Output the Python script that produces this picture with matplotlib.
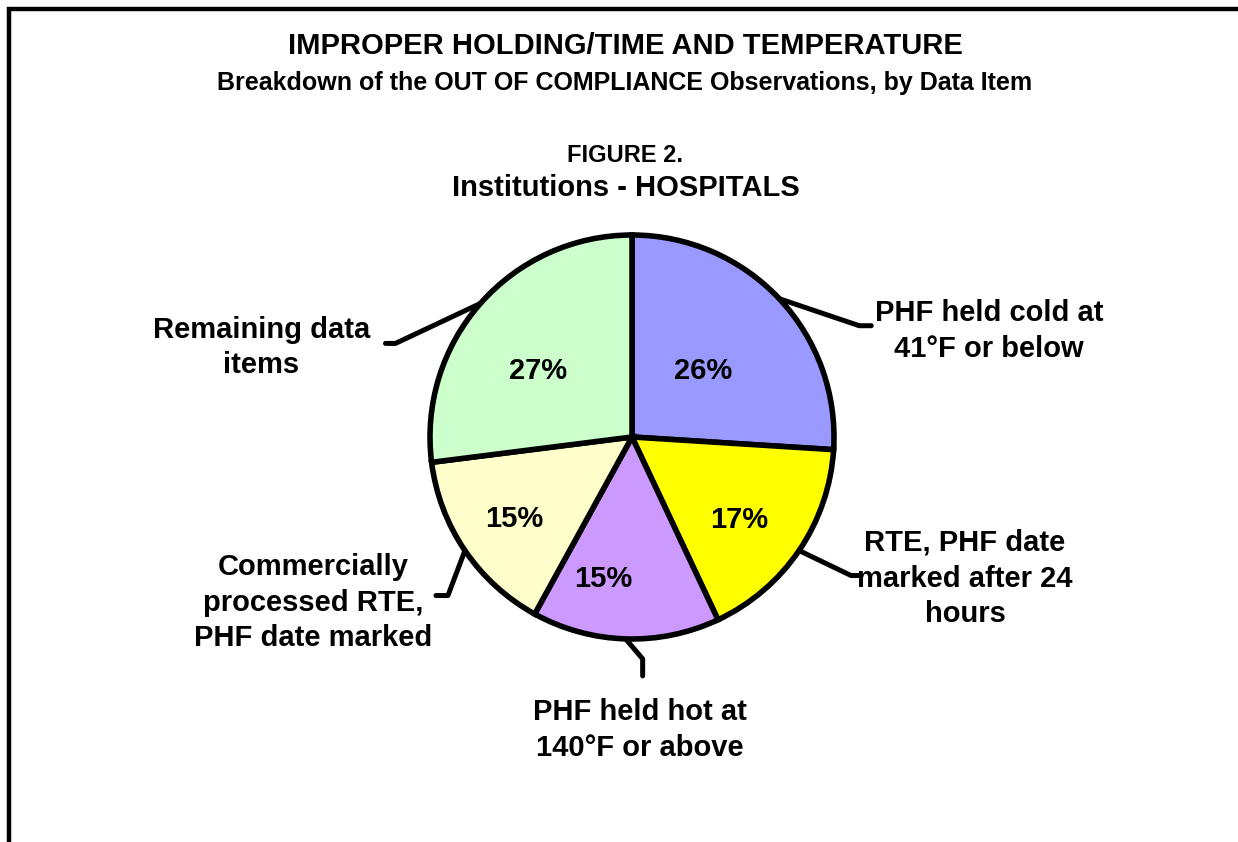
import numpy as np
import matplotlib
matplotlib.use('Agg')
from matplotlib import pyplot as plt

plt.rcParams['font.family'] = ['Liberation Sans', 'DejaVu Sans']
plt.rcParams['font.weight'] = 'bold'

#---------------
# Data
#---------------
labels = ['PHF held cold at\n41°F or below',
          'RTE, PHF date\nmarked after 24\nhours',
          'PHF held hot at\n140°F or above',
          'Commercially\nprocessed RTE,\nPHF date marked',
          'Remaining data\nitems']
shares = [26, 17, 15, 15, 27]
colors = ['#9999FF', '#FFFF00', '#CC99FF', '#FFFFCC', '#CCFFCC']

# leader elbow offsets (px) and text anchor (relative to leader end)
elbows = [(80, -27), (52, -25), (17, -20), (-17, -45), (-85, -40)]
tails = [(12, 0), (10, 0), (0, -17), (-12, 0), (-10, 0)]
text_off = [(118, -5), (104, -3), (-3, -54), (-123, -7), (-124, -4)]
# percent label placement: radius fraction, angle shift (deg)
pct_r = [0.48, 0.67, 0.72, 0.71, 0.57]
pct_da = [-0.5, -3.4, -9.8, 0.5, 6.2]

#---------------
# Figure
#---------------
W, H = 1238, 842
fig = plt.figure(figsize=(W / 100, H / 100), dpi=100)
ax = fig.add_axes([0, 0, 1, 1])

# frame (top + left only)
ax.plot([9, 9, W], [0, H - 9, H - 9], color='black', lw=3.2, solid_capstyle='butt',
        solid_joinstyle='miter')

cx, cy, r = 632, H - 437, 202
wedges, _ = ax.pie(shares, colors=colors, startangle=90, counterclock=False,
                   center=(cx, cy), radius=r, frame=True,
                   wedgeprops=dict(edgecolor='black', linewidth=4))
ax.set_xlim(0, W)
ax.set_ylim(0, H)
ax.set_aspect('auto')
ax.axis('off')

for i, w in enumerate(wedges):
    mid_deg = (w.theta1 + w.theta2) / 2
    mid = np.deg2rad(mid_deg)
    # percentage label
    pa = np.deg2rad(mid_deg + pct_da[i])
    px = cx + pct_r[i] * r * np.cos(pa)
    py = cy + pct_r[i] * r * np.sin(pa)
    ax.text(px, py, '%d%%' % shares[i], ha='center', va='center', fontsize=21,
            fontweight='bold')
    # leader line
    ex = cx + r * np.cos(mid)
    ey = cy + r * np.sin(mid)
    bx, by = ex + elbows[i][0], ey + elbows[i][1]
    tx, ty = bx + tails[i][0], by + tails[i][1]
    ax.plot([ex, bx, tx], [ey, by, ty], color='black', lw=3.6,
            solid_capstyle='round', solid_joinstyle='round')
    ax.text(tx + text_off[i][0], ty + text_off[i][1], labels[i], ha='center',
            va='center', fontsize=21, fontweight='bold', linespacing=1.35)

fig.text(625 / W, 1 - 46 / H, 'IMPROPER HOLDING/TIME AND TEMPERATURE', ha='center',
         va='center', fontsize=21, fontweight='bold')
fig.text(625 / W, 1 - 83 / H,
         'Breakdown of the OUT OF COMPLIANCE Observations, by Data Item',
         ha='center', va='center', fontsize=18, fontweight='bold')
fig.text(625 / W, 1 - 155 / H, 'FIGURE 2.', ha='center', va='center',
         fontsize=17, fontweight='bold')
fig.text(626 / W, 1 - 188 / H, 'Institutions - HOSPITALS', ha='center', va='center',
         fontsize=21, fontweight='bold')

fig.savefig('out.png', dpi=100, facecolor='white')
